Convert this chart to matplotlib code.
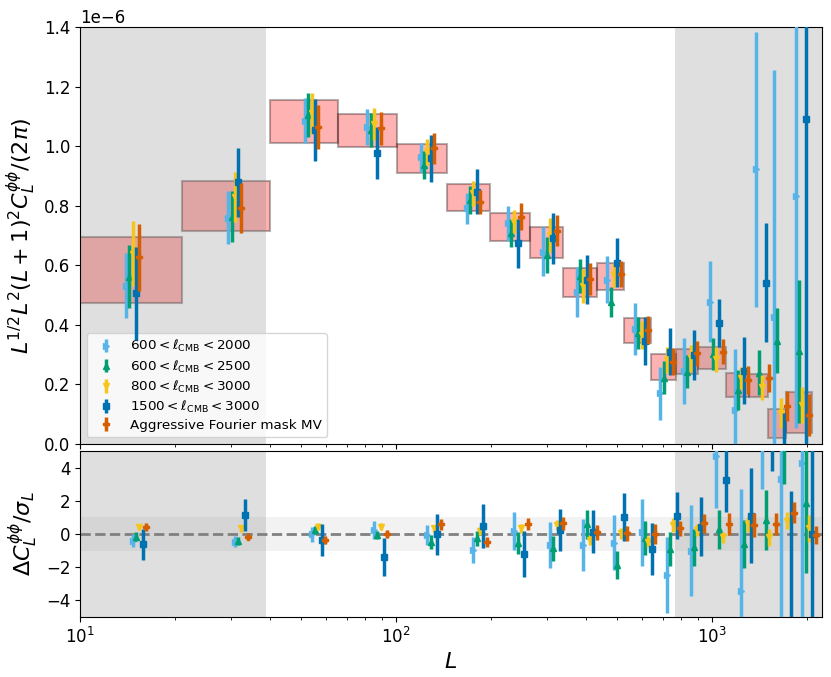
import numpy as np
import matplotlib
matplotlib.use('Agg')
import matplotlib.pyplot as plt
from matplotlib.patches import Rectangle

# ---------------- data ----------------
bin_edges = [8, 21, 40, 65.5, 101, 145, 198, 265, 338, 433, 527, 641, 769,
             903, 1108, 1309, 1504, 1715, 2072]
box_lo = [0.475, 0.715, 1.010, 0.997, 0.909, 0.783, 0.683, 0.623, 0.493,
          0.517, 0.338, 0.215, 0.235, 0.251, 0.159, 0.157, 0.019, 0.036]
box_hi = [0.695, 0.883, 1.155, 1.107, 1.006, 0.873, 0.774, 0.730, 0.590,
          0.609, 0.422, 0.302, 0.320, 0.325, 0.237, 0.235, 0.116, 0.176]
bin_centers = [14.68, 30.9, 54.1, 85.2, 125.6, 175.6, 236.8, 307, 391.5,
               489.6, 599, 719, 856, 1030, 1236, 1443, 1649, 1931]

labels = [r'$600 < \ell_{\rm CMB} < 2000$',
          r'$600 < \ell_{\rm CMB} < 2500$',
          r'$800 < \ell_{\rm CMB} < 3000$',
          r'$1500 < \ell_{\rm CMB} < 3000$',
          'Aggressive Fourier mask MV']

# top panel: band powers (units of 1e-6)
top_vals = [
    [0.531, 0.760, 1.085, 1.065, 0.962, 0.791, 0.741, 0.646, 0.511, 0.551,
     0.385, 0.170, 0.245, 0.478, 0.114, 0.922, 0.427, 0.833],
    [0.562, 0.763, 1.104, 1.054, 0.937, 0.819, 0.707, 0.634, 0.564, 0.478,
     0.372, 0.223, 0.243, 0.302, 0.181, 0.239, 0.347, 0.312],
    [0.638, 0.830, 1.110, 1.074, 0.981, 0.842, 0.746, 0.702, 0.530, 0.567,
     0.366, 0.282, 0.288, 0.284, 0.221, 0.190, 0.103, 0.131],
    [0.506, 0.878, 1.054, 0.976, 0.959, 0.847, 0.674, 0.690, 0.551, 0.609,
     0.347, 0.310, 0.299, 0.407, 0.246, 0.541, -0.060, 1.090],
    [0.627, 0.793, 1.065, 1.060, 0.993, 0.813, 0.763, 0.716, 0.553, 0.571,
     0.383, 0.276, 0.304, 0.310, 0.215, 0.221, 0.128, 0.097],
]
top_errs = [
    [0.109, 0.090, 0.075, 0.060, 0.050, 0.052, 0.059, 0.081, 0.084, 0.079,
     0.087, 0.088, 0.110, 0.135, 0.204, 0.462, 0.830, 0.780],
    [0.106, 0.086, 0.073, 0.056, 0.048, 0.046, 0.047, 0.060, 0.056, 0.050,
     0.053, 0.056, 0.055, 0.055, 0.068, 0.075, 0.108, 0.240],
    [0.109, 0.084, 0.070, 0.053, 0.043, 0.042, 0.038, 0.057, 0.056, 0.039,
     0.047, 0.043, 0.045, 0.041, 0.038, 0.042, 0.050, 0.060],
    [0.157, 0.117, 0.105, 0.087, 0.080, 0.076, 0.082, 0.086, 0.082, 0.083,
     0.081, 0.080, 0.084, 0.081, 0.113, 0.200, 0.165, 1.200],
    [0.112, 0.083, 0.073, 0.056, 0.052, 0.041, 0.046, 0.052, 0.053, 0.045,
     0.046, 0.045, 0.041, 0.043, 0.046, 0.048, 0.050, 0.070],
]

# bottom panel: residuals / sigma
bot_vals = [
    [-0.40, -0.46, -0.02, 0.24, -0.06, -0.96, 0.18, -0.66, -0.66, -0.52,
     0.10, -2.46, -1.00, 4.68, -3.46, 9.00, 3.34, 4.28],
    [-0.16, -0.42, 0.24, -0.06, -0.46, -0.26, -0.56, -0.86, 0.58, -1.86,
     -0.22, -0.90, -0.80, 0.28, -0.60, 0.84, 6.20, 1.88],
    [0.44, 0.34, 0.44, 0.44, 0.34, 0.18, 0.34, 0.54, -0.36, 0.04,
     -0.46, 0.54, 0.24, -0.20, 0.60, -0.20, 0.80, 0.34],
    [-0.62, 1.14, -0.36, -1.40, -0.02, 0.48, -1.22, 0.24, 0.14, 1.04,
     -0.90, 1.10, 0.44, 3.24, 1.10, 6.20, -5.50, 0.00],
    [0.44, -0.16, -0.36, -0.02, 0.58, -0.46, 0.60, 0.64, 0.10, 0.04,
     -0.02, 0.34, 0.64, 0.60, 0.54, 0.60, 1.28, -0.06],
]
bot_errs = [
    [0.40, 0.35, 0.45, 0.54, 0.60, 0.80, 1.16, 1.40, 1.58, 1.65,
     2.00, 2.30, 2.75, 3.14, 6.20, 6.30, 9.00, 9.50],
    [0.26, 0.25, 0.26, 0.27, 0.43, 0.45, 0.67, 0.77, 0.87, 0.85,
     1.03, 1.00, 1.13, 1.17, 1.47, 1.83, 3.20, 4.20],
    [0.17, 0.20, 0.20, 0.20, 0.22, 0.25, 0.28, 0.30, 0.30, 0.33,
     0.35, 0.40, 0.35, 0.35, 0.45, 0.50, 0.50, 0.80],
    [0.92, 0.98, 0.94, 1.15, 1.24, 1.32, 1.38, 1.28, 1.30, 1.46,
     1.55, 1.42, 1.78, 1.90, 2.85, 2.40, 8.10, 8.00],
    [0.25, 0.22, 0.26, 0.25, 0.33, 0.30, 0.38, 0.40, 0.45, 0.45,
     0.60, 0.45, 0.58, 0.65, 0.70, 0.66, 0.64, 0.57],
]

colors = ['#56B4E9', '#009E73', '#F7C51A', '#0072B2', '#D55E00']
markers = ['>', '^', 'v', 's', 'P']

L_mask_lo = 38.8
L_mask_hi = 763
xlim = (10, 2225)

# ---------------- figure ----------------
fig = plt.figure(figsize=(8.31, 6.77), dpi=100)
ax1 = fig.add_axes([0.0963, 0.3442, 0.8927, 0.6159])
ax2 = fig.add_axes([0.0963, 0.0886, 0.8927, 0.2452], sharex=ax1)

fac = 10 ** (3.3 / 316.0)
centers = np.array(bin_centers)

for ax in (ax1, ax2):
    ax.axvspan(1, L_mask_lo, color='gray', alpha=0.25, lw=0, zorder=2)
    ax.axvspan(L_mask_hi, 1e4, color='gray', alpha=0.25, lw=0, zorder=2)

for i in range(len(box_lo)):
    ax1.add_patch(Rectangle((bin_edges[i], box_lo[i] * 1e-6),
                            bin_edges[i + 1] - bin_edges[i],
                            (box_hi[i] - box_lo[i]) * 1e-6,
                            facecolor='red', edgecolor='black', alpha=0.3,
                            lw=1.5, zorder=1))

for k in range(5):
    xt = centers * fac ** (k - 2)
    ax1.errorbar(xt, np.array(top_vals[k]) * 1e-6,
                 yerr=np.array(top_errs[k]) * 1e-6,
                 fmt=markers[k], color=colors[k], ms=5, elinewidth=2.5,
                 capsize=0, label=labels[k], zorder=3 + k)
    xb = centers * fac ** k
    ax2.errorbar(xb, bot_vals[k], yerr=bot_errs[k],
                 fmt=markers[k], color=colors[k], ms=5, elinewidth=2.5,
                 capsize=0, zorder=3 + k)

ax2.axhspan(-1, 1, color='gray', alpha=0.1, lw=0, zorder=1)
ax2.axhline(0, color='gray', ls='--', lw=2, zorder=2.5)

ax1.set_xscale('log')
ax1.set_xlim(*xlim)
ax1.set_ylim(0, 1.4e-6)
ax1.set_yticks(np.arange(0, 1.41e-6, 0.2e-6))
ax2.set_ylim(-5, 5)
ax2.set_yticks([-4, -2, 0, 2, 4])

ax1.tick_params(labelbottom=False, labelsize=12)
ax2.tick_params(labelsize=12)
ax1.yaxis.get_offset_text().set_fontsize(12)

ax1.set_ylabel(r'$L^{1/2}L^2(L+1)^2C_L^{\phi\phi}/(2\pi)$', fontsize=16)
ax2.set_ylabel(r'$\Delta C_L^{\phi\phi}/\sigma_L$', fontsize=16)
ax2.set_xlabel(r'$L$', fontsize=16)
fig.align_ylabels([ax1, ax2])

ax1.legend(loc='lower left', fontsize=9.7, labelspacing=0.3,
           handlelength=2.0, handletextpad=0.8)

fig.savefig('out.png', dpi=100)
